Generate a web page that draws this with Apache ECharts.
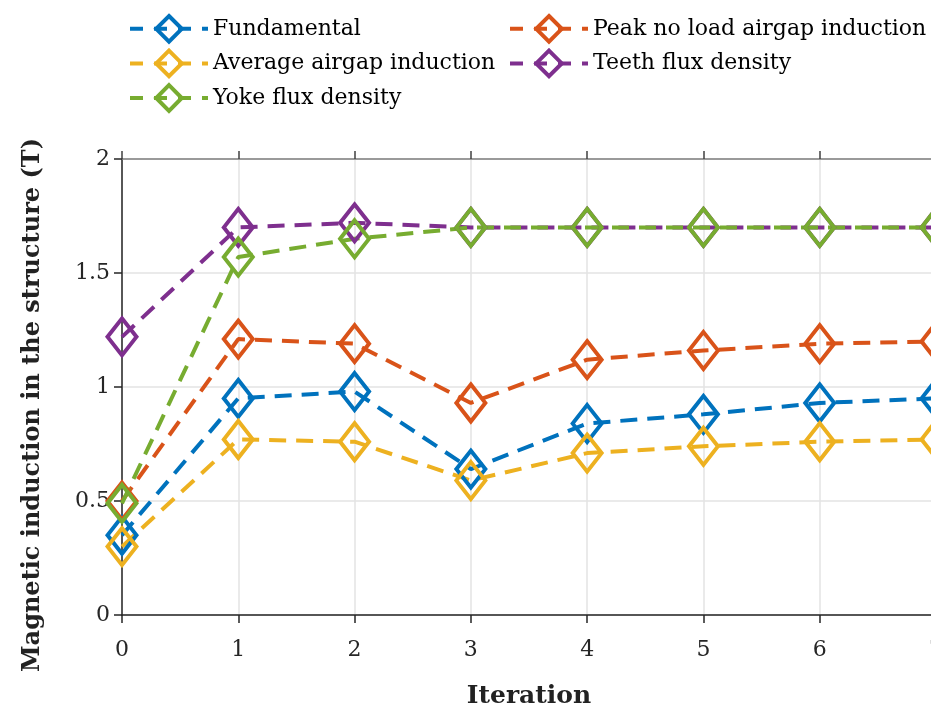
<!DOCTYPE html>
<html lang="en">
<head>
    <meta charset="UTF-8">
    <title>Magnetic induction per iteration</title>
    <script src="https://cdn.jsdelivr.net/npm/echarts@6/dist/echarts.min.js"></script>
    <style>
        html, body { margin: 0; padding: 0; background: #fff; }
        #fig1 { width: 931px; height: 713px; }
    </style>
</head>
<body>
    <div id="fig1"></div>
    <script>
        // 数据
        const iterations = [0, 1, 2, 3, 4, 5, 6, 7];
        const fundamental = [0.35, 0.95, 0.98, 0.64, 0.84, 0.88, 0.93, 0.95];
        const peakNoLoad = [0.50, 1.21, 1.19, 0.93, 1.12, 1.16, 1.19, 1.20];
        const averageAirgap = [0.30, 0.77, 0.76, 0.59, 0.71, 0.74, 0.76, 0.77];
        const teethFlux = [1.22, 1.70, 1.72, 1.70, 1.70, 1.70, 1.70, 1.70];
        const yokeFlux = [0.49, 1.57, 1.65, 1.70, 1.70, 1.70, 1.70, 1.70];

        const seriesNames = ['Fundamental', 'Peak no load airgap induction', 'Average airgap induction',
            'Teeth flux density', 'Yoke flux density'];
        const seriesValues = [fundamental, peakNoLoad, averageAirgap, teethFlux, yokeFlux];
        const colors = ['#0072BD', '#D95319', '#EDB120', '#7E2F8E', '#77AC30'];

        const serif = 'DejaVu Serif';

        function makeSeries (name, values, color) {
            return {
                name: name,
                type: 'line',
                data: iterations.map((x, i) => [x, values[i]]),
                symbol: 'diamond',
                symbolSize: [29, 37],
                showAllSymbol: true,
                clip: false,
                lineStyle: { color: color, width: 4, type: [17, 10] },
                itemStyle: { color: 'rgba(0,0,0,0)', borderColor: color, borderWidth: 4 },
                emphasis: { disabled: true },
                animation: false
            };
        }

        let series = [];
        for (let i = 0; i < seriesNames.length; i++) {
            series.push(makeSeries(seriesNames[i], seriesValues[i], colors[i]));
        }

        let legendBase = {
            orient: 'vertical',
            itemWidth: 78,
            itemHeight: 32,
            itemGap: 5,
            textStyle: { fontFamily: serif, fontSize: 22, color: '#000' },
            lineStyle: { width: 4, type: [13, 11] },
            itemStyle: { borderWidth: 4 },
            selectedMode: false
        };

        let option = {
            color: colors,
            animation: false,
            grid: { left: 122, right: -5, top: 159, bottom: 98, outerBoundsMode: 'none', containLabel: false },
            legend: [
                Object.assign({}, legendBase, { left: 123, top: 9, data: ['Fundamental', 'Average airgap induction', 'Yoke flux density'] }),
                Object.assign({}, legendBase, { left: 503, top: 9, data: ['Peak no load airgap induction', 'Teeth flux density'] })
            ],
            xAxis: [{
                type: 'value',
                min: 0,
                max: 7,
                interval: 1,
                name: 'Iteration',
                nameLocation: 'middle',
                nameGap: 69,
                nameTextStyle: { fontFamily: serif, fontSize: 25, fontWeight: 'bold', color: '#222' },
                axisLine: { lineStyle: { color: '#262626', width: 1.5 } },
                axisTick: { inside: false, length: 8, lineStyle: { color: '#262626', width: 1.5 } },
                axisLabel: { margin: 24, fontFamily: serif, fontSize: 22, color: '#262626' },
                splitLine: { show: true, lineStyle: { color: '#e3e3e3', width: 1.5 } }
            }, {
                type: 'value',
                position: 'top',
                min: 0,
                max: 7,
                interval: 1,
                axisLine: { lineStyle: { color: '#808080', width: 1.5 } },
                axisTick: { inside: false, length: 8, lineStyle: { color: '#404040', width: 1.5 } },
                axisLabel: { show: false },
                splitLine: { show: false }
            }],
            yAxis: {
                type: 'value',
                min: 0,
                max: 2,
                interval: 0.5,
                axisLine: { show: true, lineStyle: { color: '#262626', width: 1.5 } },
                axisTick: { show: true, inside: false, length: 8, lineStyle: { color: '#262626', width: 1.5 } },
                axisLabel: { margin: 12, fontFamily: serif, fontSize: 22, color: '#262626' },
                splitLine: { show: true, lineStyle: { color: '#e3e3e3', width: 1.5 } }
            },
            graphic: [{
                type: 'text',
                x: 33,
                y: 405,
                rotation: Math.PI / 2,
                style: {
                    text: 'Magnetic induction in the structure (T)',
                    fontFamily: serif,
                    fontSize: 24,
                    fontWeight: 'bold',
                    fill: '#222',
                    align: 'center',
                    verticalAlign: 'middle'
                }
            }],
            series: series
        };

        let fig1 = echarts.init(document.getElementById('fig1'), null, { renderer: 'canvas' });
        fig1.setOption(option);
    </script>
</body>
</html>
